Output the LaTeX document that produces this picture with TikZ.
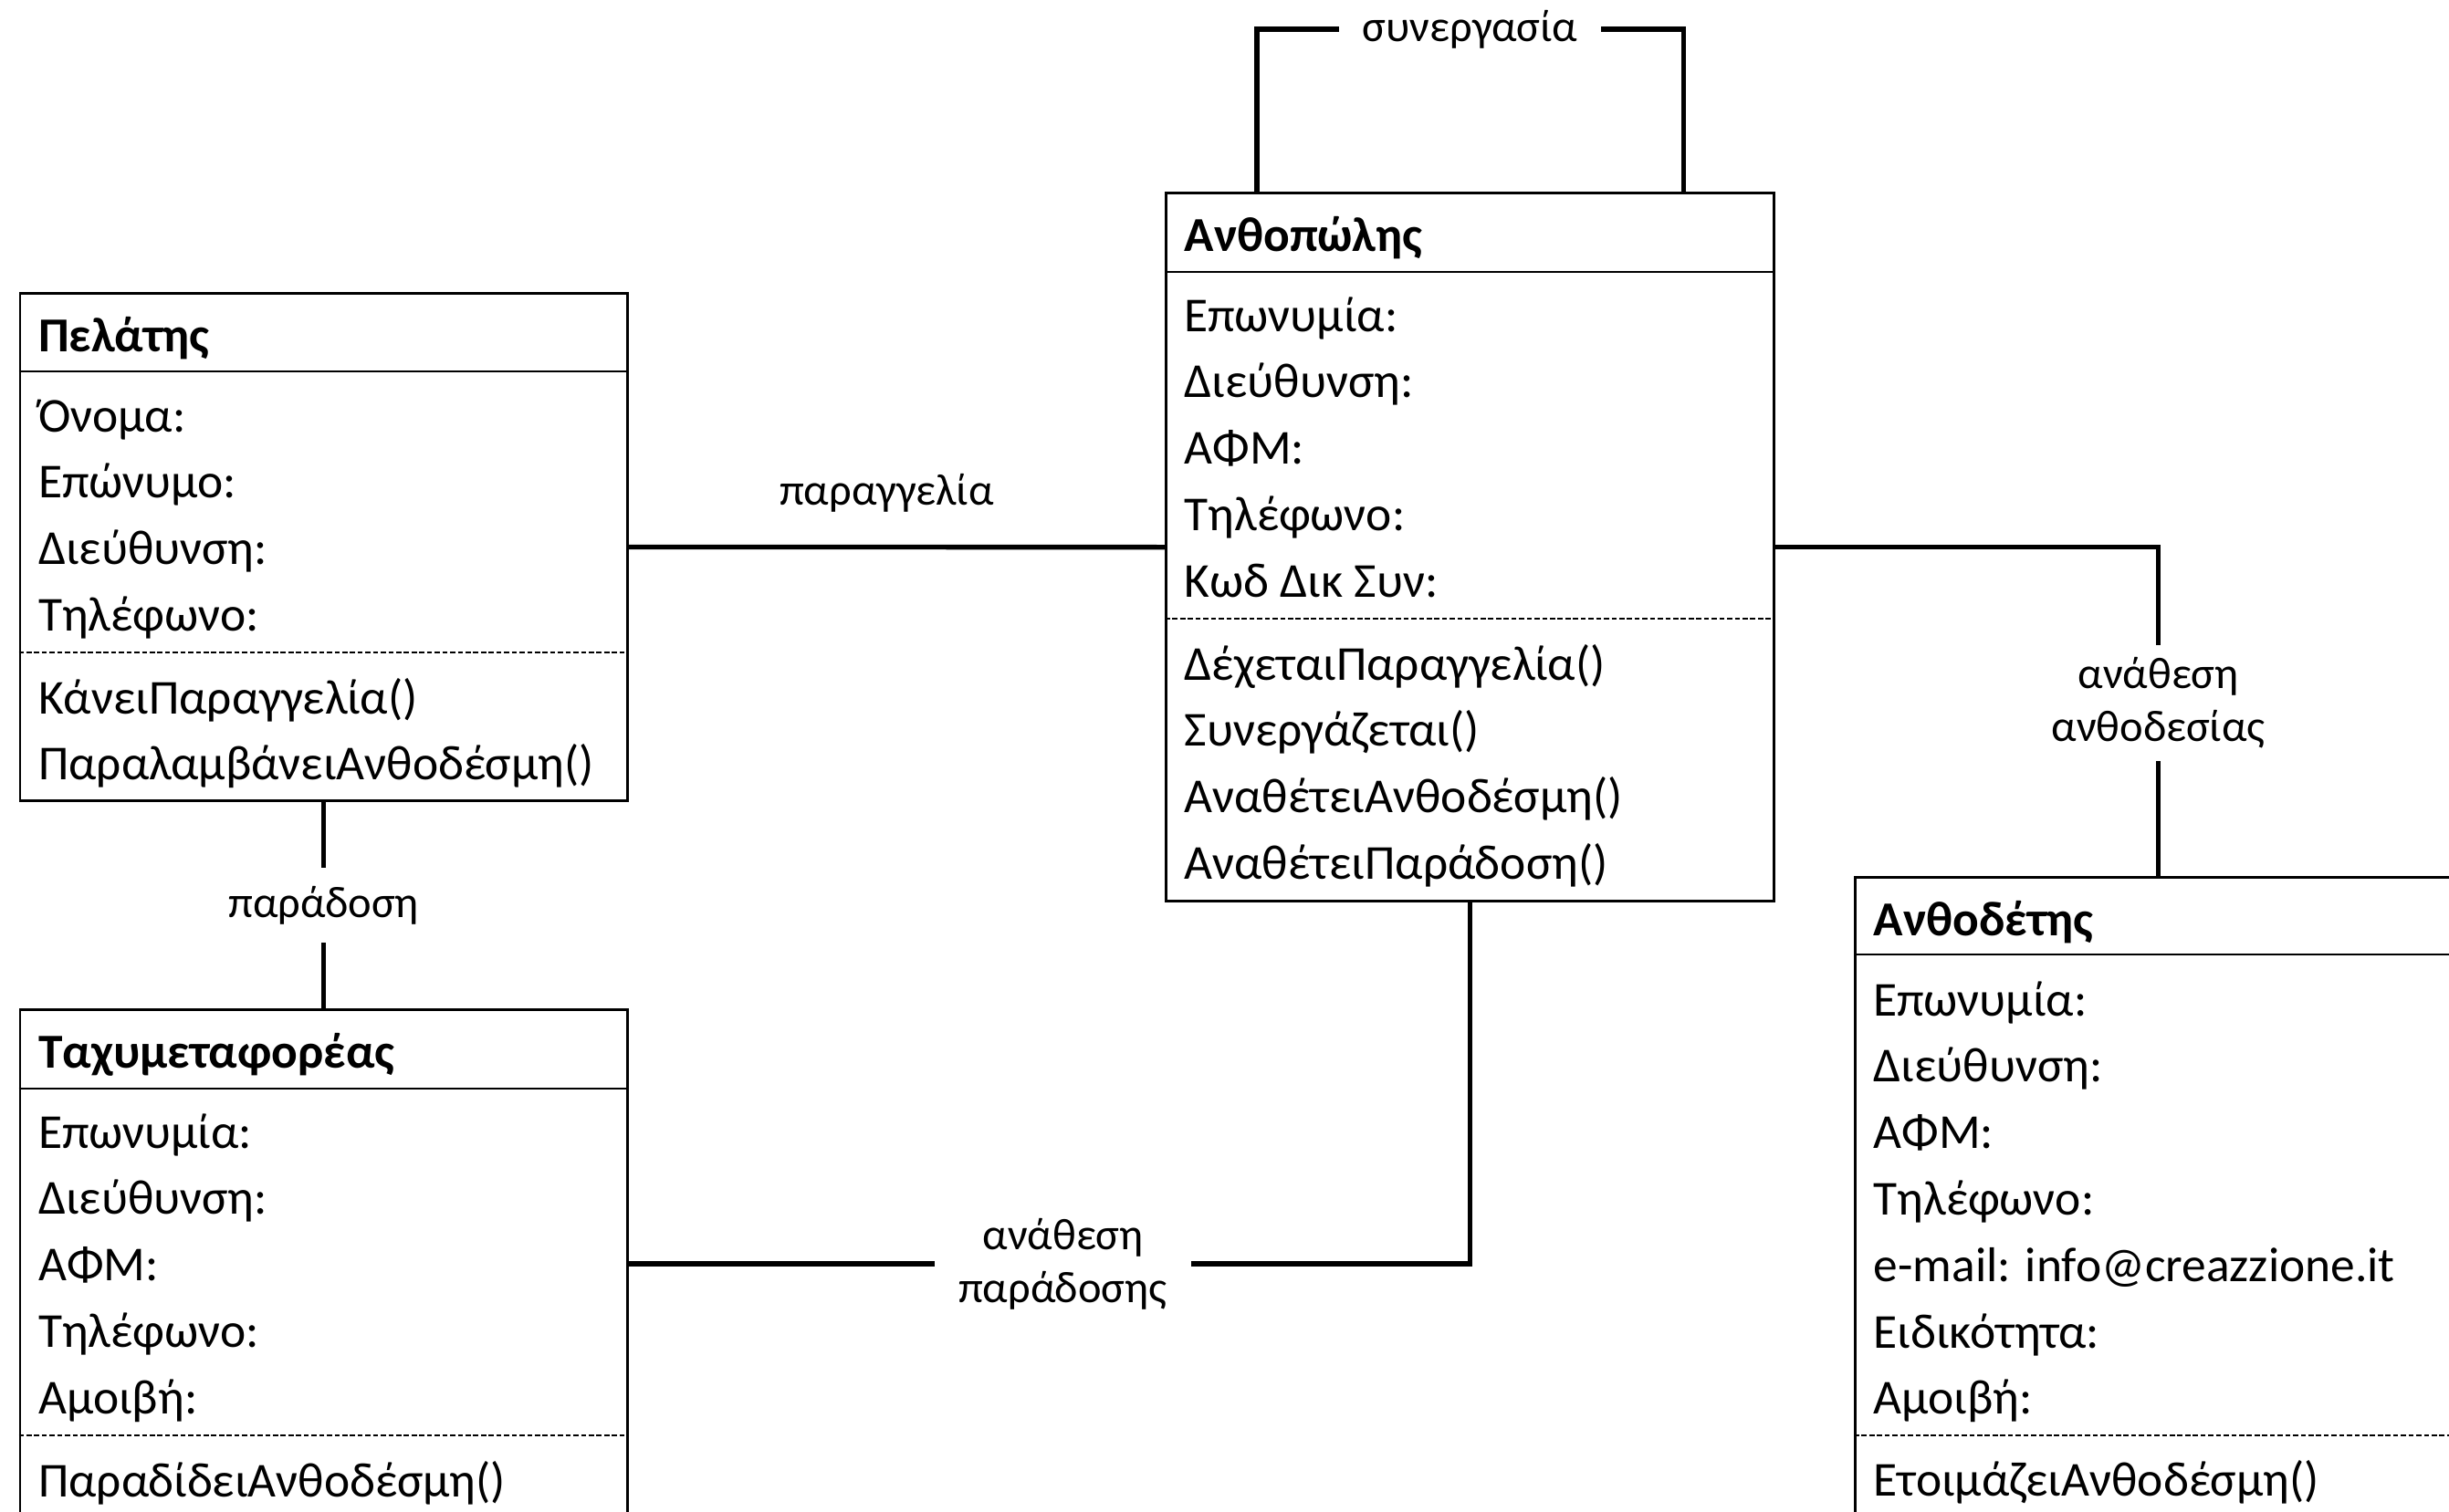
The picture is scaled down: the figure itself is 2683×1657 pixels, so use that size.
\documentclass[tikz,border=0pt]{standalone}
\usepackage{fontspec}
\setmainfont{Carlito}
\usetikzlibrary{calc}
\usetikzlibrary{positioning}

\tikzset{
	classbox/.style={draw, line width=0.8pt, anchor=north west, inner sep=0pt, minimum width=6.655cm},
	rowtext/.style={anchor=base west, inner sep=0pt, font=\fontsize{15.2}{18}\selectfont},
	classname/.style={rowtext, font=\fontsize{15.2}{18}\selectfont\bfseries},
	sepline/.style={line width=0.8pt},
	dashline/.style={line width=0.6pt, dash pattern=on 1.6pt off 0.8pt},
	assoc/.style={line width=1.5pt},
	assoclabel/.style={fill=white, align=center, inner sep=0.2cm, font=\fontsize{13.8}{16.5}\selectfont}
}

\begin{document}
\begin{tikzpicture}[x=0.01cm, y=-0.01cm]
	\clip (0,0) rectangle (2683,1657);

	% Πελάτης
	\node[classbox, minimum height=5.56cm] (pelatis) at (20.5,320) {};
	\node[classname] (pelatis-name) at ($(pelatis.north west)+(21,65)$) {Πελάτης};
	\draw[sepline] ($(pelatis.north west)+(0,87)$) -- ($(pelatis.north east)+(0,87)$);
	\foreach \t [count=\i from 0] in {Όνομα:, Επώνυμο:, Διεύθυνση:, Τηλέφωνο:}
	\node[rowtext] (pelatis-a\i) at ($(pelatis.north west)+(21,153+72.8*\i)$) {\t};
	\draw[dashline] ($(pelatis.north west)+(0,395)$) -- ($(pelatis.north east)+(0,395)$);
	\foreach \t [count=\i from 0] in {ΚάνειΠαραγγελία(), ΠαραλαμβάνειΑνθοδέσμη()}
	\node[rowtext] (pelatis-m\i) at ($(pelatis.north west)+(21,462+72.8*\i)$) {\t};

	% Ανθοπώλης
	\node[classbox, minimum width=6.66cm, minimum height=7.76cm] (anthopolis) at (1276,210) {};
	\node[classname] (anthopolis-name) at ($(anthopolis.north west)+(21,65)$) {Ανθοπώλης};
	\draw[sepline] ($(anthopolis.north west)+(0,88)$) -- ($(anthopolis.north east)+(0,88)$);
	\foreach \t [count=\i from 0] in {Επωνυμία:, Διεύθυνση:, ΑΦΜ:, Τηλέφωνο:, Κωδ Δικ Συν:}
	\node[rowtext] (anthopolis-a\i) at ($(anthopolis.north west)+(21,153+72.8*\i)$) {\t};
	\draw[dashline] ($(anthopolis.north west)+(0,468)$) -- ($(anthopolis.north east)+(0,468)$);
	\foreach \t [count=\i from 0] in {ΔέχεταιΠαραγγελία(), Συνεργάζεται(), ΑναθέτειΑνθοδέσμη(), ΑναθέτειΠαράδοση()}
	\node[rowtext] (anthopolis-m\i) at ($(anthopolis.north west)+(21,535+72.8*\i)$) {\t};

	% Ταχυμεταφορέας
	\node[classbox, minimum height=5.57cm] (taxy) at (20.5,1105) {};
	\node[classname] (taxy-name) at ($(taxy.north west)+(21,65)$) {Ταχυμεταφορέας};
	\draw[sepline] ($(taxy.north west)+(0,88)$) -- ($(taxy.north east)+(0,88)$);
	\foreach \t [count=\i from 0] in {Επωνυμία:, Διεύθυνση:, ΑΦΜ:, Τηλέφωνο:, Αμοιβή:}
	\node[rowtext] (taxy-a\i) at ($(taxy.north west)+(21,153+72.8*\i)$) {\t};
	\draw[dashline] ($(taxy.north west)+(0,468)$) -- ($(taxy.north east)+(0,468)$);
	\node[rowtext] (taxy-m0) at ($(taxy.north west)+(21,535)$) {ΠαραδίδειΑνθοδέσμη()};

	% Ανθοδέτης
	\node[classbox, minimum width=6.64cm, minimum height=7.01cm] (anthodetis) at (2031,960) {};
	\node[classname] (anthodetis-name) at ($(anthodetis.north west)+(21,65)$) {Ανθοδέτης};
	\draw[sepline] ($(anthodetis.north west)+(0,86)$) -- ($(anthodetis.north east)+(0,86)$);
	\foreach \t [count=\i from 0] in {Επωνυμία:, Διεύθυνση:, ΑΦΜ:, Τηλέφωνο:, e-mail: info@creazzione.it, Ειδικότητα:, Αμοιβή:}
	\node[rowtext] (anthodetis-a\i) at ($(anthodetis.north west)+(21,153+72.8*\i)$) {\t};
	\draw[dashline] ($(anthodetis.north west)+(0,613)$) -- ($(anthodetis.north east)+(0,613)$);
	\node[rowtext] (anthodetis-m0) at ($(anthodetis.north west)+(21,679)$) {ΕτοιμάζειΑνθοδέσμη()};

	% συσχετίσεις
	\draw[assoc] (pelatis.east) -- node[assoclabel, fill=none, yshift=0.59cm, xshift=-0.11cm] (paraggelia) {παραγγελία} (anthopolis.west);
	\draw[assoc] (pelatis.south) -- node[assoclabel] (paradosi) {παράδοση} (taxy.north);
	\draw[assoc] (taxy.east) -| node[assoclabel, pos=0.258, inner xsep=0.26cm] (anathesi-par) {ανάθεση\\παράδοσης} (anthopolis.south);
	\draw[assoc] (anthopolis.east) -| node[assoclabel, pos=0.737, inner ysep=0.14cm] (anathesi-anth) {ανάθεση\\ανθοδεσίας} (anthodetis.north);
	\coordinate (syn-l) at ($(anthopolis.north west)+(101,0)$);
	\coordinate (syn-r) at ($(anthopolis.north east)+(-101,0)$);
	\draw[assoc] (syn-l) -- ++(0,-178) -| node[assoclabel, pos=0.25, inner xsep=0.26cm] (synergasia) {συνεργασία} (syn-r);
\end{tikzpicture}
\end{document}
